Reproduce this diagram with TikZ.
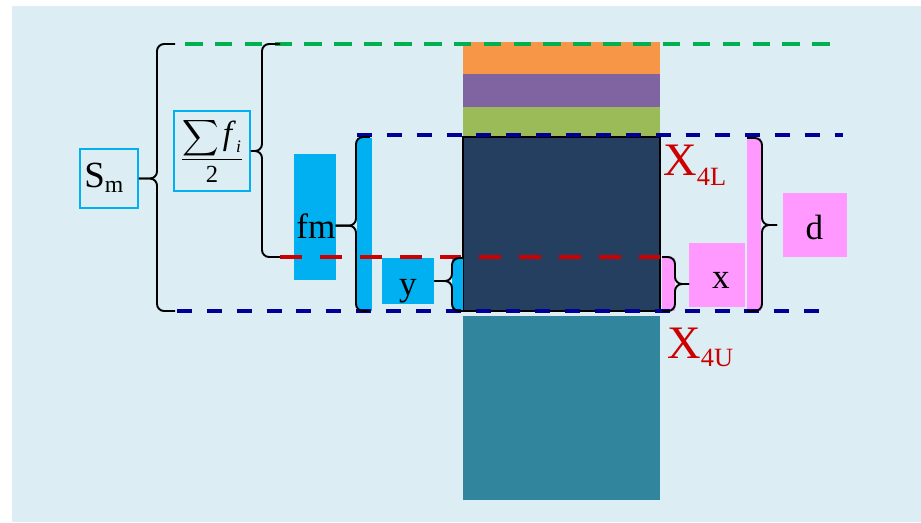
\documentclass[tikz,border=0pt]{standalone}
\usepackage{exscale}
\usepackage{fontspec}
\setmainfont{Liberation Serif}

\definecolor{bgblue}{HTML}{DCEDF3}
\definecolor{barorange}{HTML}{F79646}
\definecolor{barpurple}{HTML}{8064A2}
\definecolor{bargreen}{HTML}{9BBB59}
\definecolor{barnavy}{HTML}{243F60}
\definecolor{barteal}{HTML}{31859C}
\definecolor{cyanbox}{HTML}{00B0F0}
\definecolor{pinkbox}{HTML}{FF99FF}
\definecolor{dashgreen}{HTML}{00B050}
\definecolor{dashblue}{HTML}{000099}
\definecolor{dashred}{HTML}{CC0000}

\newcommand{\bigtxt}{\fontsize{20}{20}\selectfont}
\newcommand{\xlabel}{\fontsize{26.5}{26.5}\selectfont}
\newcommand{\xsub}{\fontsize{15}{15}\selectfont}

\tikzset{
  curly/.style={line width=1.1pt, rounded corners=4pt},
  cyanframe/.style={draw=cyanbox, line width=1.1pt, inner sep=0pt},
  filledbox/.style={fill=#1, inner sep=0pt},
  greendash/.style={dashgreen, line width=2.2pt, dash pattern=on 10pt off 7pt, dash phase=11.3pt},
  bluedash/.style={dashblue, line width=1.9pt, dash pattern=on 8.5pt off 8.5pt},
  reddash/.style={dashred, line width=2.2pt, dash pattern=on 12.5pt off 10.2pt},
  txt/.style={inner sep=0pt, anchor=base, font=\bigtxt}
}

\begin{document}
\begin{tikzpicture}[x=0.02cm, y=-0.02cm]
        \useasboundingbox (0,0) rectangle (921,522);
        \fill[bgblue] (12,6) rectangle (921,522);

        % sloupec vrstev
        \fill[barorange] (463,42) rectangle (660,74);
        \fill[barpurple] (463,74) rectangle (660,107);
        \fill[bargreen] (463,107) rectangle (660,137);
        \filldraw[fill=barnavy, draw=black, line width=1.1pt] (463,137) rectangle (660,311);
        \fill[barteal] (463,316) rectangle (660,500);

        % pruhy u zavorek
        \fill[cyanbox] (357,138) rectangle (372,311);
        \fill[cyanbox] (452,258) rectangle (463,311);
        \fill[pinkbox] (662,258) rectangle (675,311);
        \fill[pinkbox] (747,138) rectangle (761,311);

        % ramecky
        \node[cyanframe, minimum width=1.16cm, minimum height=1.18cm] (smbox) at (109,178.5) {};
        \node[cyanframe, minimum width=1.52cm, minimum height=1.6cm] (fracbox) at (212,151) {};
        \node[filledbox=cyanbox, minimum width=0.84cm, minimum height=2.52cm] (fmbox) at (315,217) {};
        \node[filledbox=cyanbox, minimum width=1.04cm, minimum height=0.92cm] (ybox) at (408,281) {};
        \node[filledbox=pinkbox, minimum width=1.12cm, minimum height=1.28cm] (xbox) at (717,275) {};
        \node[filledbox=pinkbox, minimum width=1.28cm, minimum height=1.28cm] (dbox) at (815,225) {};

        % texty
        \node[txt, anchor=base west, font=\fontsize{21}{21}\selectfont] (sm) at (84,187)
            {S\raisebox{-3.4pt}{\fontsize{13.5}{13.5}\selectfont m}};
        \node[font=\fontsize{14}{14}\selectfont, inner sep=0pt] (frac) at (212,150)
            {$\frac{\displaystyle\sum\mbox{\fontsize{19}{19}\selectfont\textit{f}}_{\mbox{\fontsize{10}{10}\selectfont\textit{i}}}}
                   {\mbox{\raisebox{-4pt}{\fontsize{14}{14}\selectfont 2}}}$};
        \node[txt, anchor=base west] (fm) at (296,238) {fm};
        \node[txt] (y) at (408,295) {y};
        \node[txt] (x) at (721,288) {x};
        \node[txt] (d) at (814.5,239) {d};
        \node[txt, anchor=base west, font=\xlabel, text=dashred] (xl) at (663,175)
            {X\raisebox{-5.7pt}{\xsub 4L}};
        \node[txt, anchor=base west, font=\xlabel, text=dashred] (xu) at (667,358)
            {X\raisebox{-5.1pt}{\xsub 4U}};

        % carkovane hranice
        \draw[greendash] (175,44) coordinate (sTop) -- (830,44);
        \draw[bluedash] (177,311) -- (830,311);
        \draw[bluedash] (357,135) -- (843,135);
        \draw[reddash] (280,257) coordinate (hBot) -- (660,257);

        % konce zavorek
        \coordinate (sBot) at (175,311);
        \coordinate (hTop) at (280,44);
        \coordinate (fTop) at (370,137);
        \coordinate (fBot) at (370,311);
        \coordinate (yTop) at (463,258);
        \coordinate (yBot) at (463,311);
        \coordinate (xTop) at (662,257);
        \coordinate (xBot) at (662,311);
        \coordinate (xTip) at (689,284);
        \coordinate (dTop) at (747,138);
        \coordinate (dBot) at (747,311);
        \coordinate (dTip) at (777,225);

        % zavorky
        \draw[curly] (sTop) -- ++(-18,0) |- (smbox.east);
        \draw[curly] (sBot) -- ++(-18,0) |- (smbox.east);
        \draw[curly] (hTop) -- ++(-18,0) |- (fracbox.east);
        \draw[curly] (hBot) -- ++(-18,0) |- (fracbox.east);
        \draw[curly] (fTop) -- ++(-14,0) |- (fm.east);
        \draw[curly] (fBot) -- ++(-14,0) |- (fm.east);
        \draw[curly] (yTop) -- ++(-11,0) |- (ybox.east);
        \draw[curly] (yBot) -- ++(-11,0) |- (ybox.east);
        \draw[curly] (xTop) -- ++(13,0) |- (xTip);
        \draw[curly] (xBot) -- ++(13,0) |- (xTip);
        \draw[curly] (dTop) -- ++(15,0) |- (dTip);
        \draw[curly] (dBot) -- ++(15,0) |- (dTip);

    \end{tikzpicture}
\end{document}
